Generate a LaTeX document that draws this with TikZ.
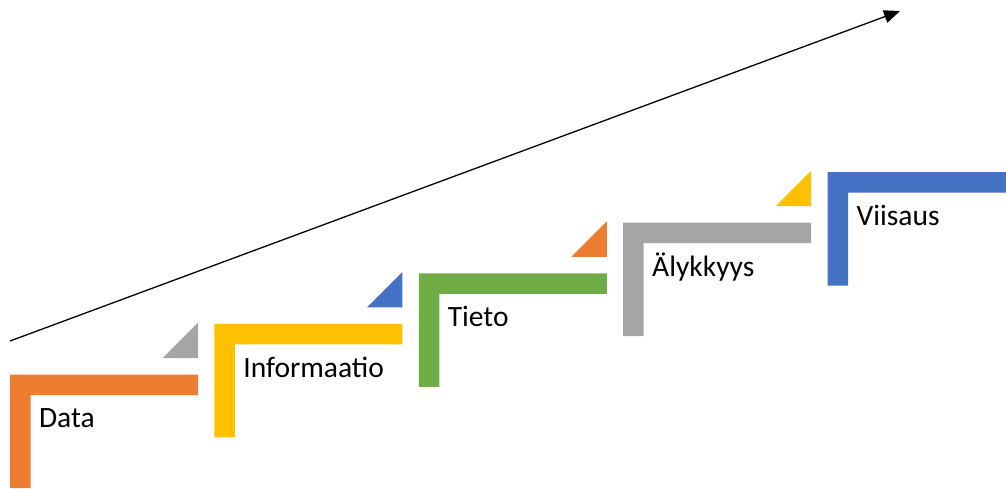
\documentclass[tikz,border=0pt]{standalone}
\usepackage{fontspec}
\setmainfont{Carlito}
\usetikzlibrary{arrows.meta}
\definecolor{cOrange}{HTML}{ED7D31}
\definecolor{cGray}{HTML}{A5A5A5}
\definecolor{cYellow}{HTML}{FFC000}
\definecolor{cBlue}{HTML}{4472C4}
\definecolor{cGreen}{HTML}{70AD47}
% one stair: L-shaped bar, its label, and optionally a corner triangle
\newcommand{\stair}[5]{%
  \begin{scope}[shift={#1}]
    \fill[#2] (0,0) -- (188,0) -- (188,20.5) -- (20.5,20.5) -- (20.5,113.5) -- (0,113.5) -- cycle;
    \node[lbl] (#5) at (28.8,53.3) {#3};
    \ifx\relax#4\relax\else
      \fill[#4] (152.5,-16.5) -- (188,-16.5) -- (188,-52) -- cycle;
    \fi
  \end{scope}}
\begin{document}
\begin{tikzpicture}[x=1pt,y=-1pt,
  lbl/.style={anchor=base west, inner sep=0pt, font=\fontsize{29.5}{35}\selectfont},
  growth/.style={line width=1.3pt, -{Triangle[length=16pt,width=13pt]}}]
\clip (0,0) rectangle (1006,488);
\stair{(10,374.5)}{cOrange}{Data}{cGray}{data}
\stair{(214.4,323.9)}{cYellow}{Informaatio}{cBlue}{info}
\stair{(418.8,273.3)}{cGreen}{Tieto}{cOrange}{tieto}
\stair{(623.2,222.7)}{cGray}{Älykkyys}{cYellow}{alyk}
\stair{(827.6,172.1)}{cBlue}{Viisaus}{}{viisaus}
\coordinate (low) at (10,341);
\coordinate (high) at (900,11);
\draw[growth] (low) -- (high);
\end{tikzpicture}
\end{document}
